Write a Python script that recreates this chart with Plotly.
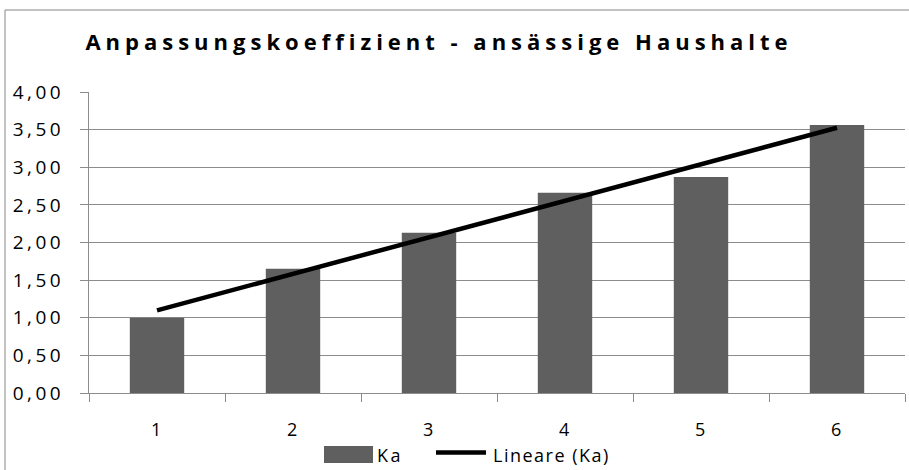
import numpy as np
import plotly.graph_objects as go

categories = ["1", "2", "3", "4", "5", "6"]
ka_values = [1.00, 1.65, 2.13, 2.66, 2.87, 3.56]
y_ticks = [0, 0.5, 1.0, 1.5, 2.0, 2.5, 3.0, 3.5, 4.0]
title_text = "Anpassungskoeffizient - ansässige Haushalte"
series_name = "Ka"
trend_name = "Lineare (Ka)"

# linear trend (least squares) over category index 1..6
xi = np.arange(1, len(ka_values) + 1)
slope, intercept = np.polyfit(xi, ka_values, 1)
trend = list(slope * xi + intercept)

W, H = 909, 470
ML, MR, MT, MB = 89, 4, 92, 77
PW, PH = W - ML - MR, H - MT - MB

def px(x):
    return (x - ML) / PW

def py(y):
    return (H - MB - y) / PH

FONT = "Open Sans"
GRID = "#8c8c8c"
BAR = "#5f5f5f"

def spaced(s, ls=1.5):
    return f'<span style="letter-spacing:{ls}px">{s}</span>'

fig = go.Figure()
fig.add_trace(go.Bar(x=categories, y=ka_values, marker=dict(color=BAR, line=dict(width=0)),
                     name=series_name, showlegend=False, hoverinfo="skip"))
fig.add_trace(go.Scatter(x=categories, y=trend, mode="lines", name=trend_name,
                         line=dict(color="black", width=4.5), showlegend=False, hoverinfo="skip"))

shapes = [
    # chart-area border (left and top visible)
    dict(type="line", xref="paper", yref="paper", x0=px(5), x1=px(5), y0=py(10), y1=py(475),
         line=dict(color="#868686", width=1)),
    dict(type="line", xref="paper", yref="paper", x0=px(5), x1=px(915), y0=py(10), y1=py(10),
         line=dict(color="#868686", width=1)),
    # legend swatches
    dict(type="rect", xref="paper", yref="paper", x0=px(324), x1=px(373), y0=py(446), y1=py(463),
         fillcolor=BAR, line=dict(width=0)),
    dict(type="line", xref="paper", yref="paper", x0=px(436), x1=px(486), y0=py(452.5), y1=py(452.5),
         line=dict(color="black", width=4.5)),
]

annotations = [
    dict(text=spaced(series_name, 2.5), xref="paper", yref="paper", x=px(375), y=py(455),
         xanchor="left", yanchor="middle", showarrow=False, font=dict(family=FONT, size=18, color="black")),
    dict(text=spaced(trend_name, 1.5), xref="paper", yref="paper", x=px(491), y=py(455),
         xanchor="left", yanchor="middle", showarrow=False, font=dict(family=FONT, size=18, color="black")),
]

fig.update_layout(
    width=W, height=H,
    margin=dict(l=ML, r=MR, t=MT, b=MB),
    paper_bgcolor="white", plot_bgcolor="white",
    bargap=0.6,
    showlegend=False,
    separators=",.",
    title=dict(text="<b>" + spaced(title_text, 5.0) + "</b>", x=439 / W, xanchor="center",
               xref="container", yref="container", y=1 - 42 / H, yanchor="middle",
               font=dict(family=FONT, size=22, color="black")),
    shapes=shapes,
    annotations=annotations,
    font=dict(family=FONT, size=18, color="black"),
)

fig.update_xaxes(type="category", showgrid=False, showline=True, linecolor=GRID, linewidth=1,
                 ticks="outside", tickson="boundaries", ticklen=8, tickcolor=GRID,
                 tickvals=categories, ticktext=[spaced(c) for c in categories],
                 ticklabelstandoff=20,
                 tickfont=dict(family=FONT, size=18, color="black"), zeroline=False)
fig.update_yaxes(range=[0, 4], tickvals=y_ticks,
                 ticktext=[spaced(f"{v:.2f}".replace(".", ","), 3.5) for v in y_ticks],
                 showgrid=True, gridcolor=GRID, gridwidth=1,
                 showline=True, linecolor=GRID, linewidth=1,
                 ticks="outside", ticklen=8, tickcolor=GRID,
                 ticklabelstandoff=12,
                 tickfont=dict(family=FONT, size=19, color="black"), zeroline=False)

fig.write_html("out.html", config={"displayModeBar": False},
               post_script="document.body.style.margin='0';document.body.style.overflow='hidden';")
